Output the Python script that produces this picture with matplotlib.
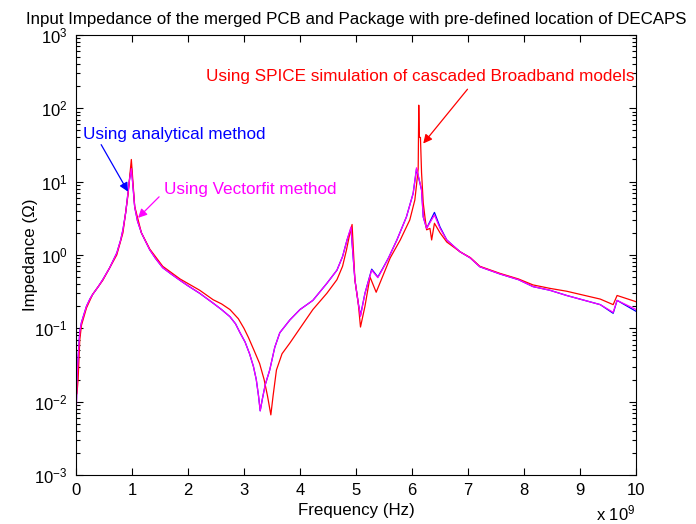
import matplotlib
matplotlib.use("Agg")
import matplotlib.pyplot as plt
from matplotlib.ticker import LogLocator, NullFormatter, MultipleLocator

plt.rcParams['font.family'] = ['Liberation Sans', 'DejaVu Sans']
plt.rcParams['mathtext.default'] = 'regular'

# frequency in units of 1e9 Hz, impedance in ohm
f_analytical = [0.0, 0.01, 0.02, 0.04, 0.07, 0.1, 0.15, 0.19, 0.25, 0.3, 0.4, 0.48, 0.6, 0.73,
                0.8, 0.84, 0.89, 0.93, 0.96, 0.99, 1.02, 1.05, 1.1, 1.17, 1.25, 1.32, 1.42,
                1.55, 1.7, 1.86, 2.0, 2.21, 2.45, 2.6, 2.75, 2.85, 2.93, 3.02, 3.1, 3.17,
                3.22, 3.26, 3.29, 3.33, 3.38, 3.46, 3.55, 3.64, 3.82, 4.0, 4.23, 4.48, 4.66,
                4.76, 4.84, 4.91, 4.98, 5.04, 5.08, 5.16, 5.28, 5.39, 5.48, 5.58, 5.73, 5.9,
                6.02, 6.08, 6.17, 6.2, 6.26, 6.4, 6.5, 6.62, 6.75, 6.86, 7.04, 7.21, 7.57,
                7.9, 8.16, 8.46, 8.76, 9.36, 9.59, 9.66, 10.0]
z_analytical = [0.007, 0.01, 0.02, 0.04, 0.09, 0.12, 0.16, 0.2, 0.25, 0.29, 0.37, 0.46, 0.66, 1.06,
                1.6, 2.2, 3.8, 7.0, 11, 16, 8.5, 4.5, 2.9, 2.0, 1.5, 1.17, 0.9,
                0.67, 0.55, 0.45, 0.38, 0.30, 0.22, 0.18, 0.144, 0.115, 0.087, 0.065, 0.045, 0.03,
                0.02, 0.012, 0.0075, 0.011, 0.017, 0.027, 0.055, 0.087, 0.13, 0.18, 0.24, 0.41, 0.62,
                0.95, 1.6, 2.3, 0.46, 0.22, 0.15, 0.3, 0.64, 0.5, 0.66, 0.91, 1.6, 3.3,
                6.9, 14.8, 7.7, 3.3, 2.3, 3.8, 2.4, 1.6, 1.3, 1.1, 0.91, 0.69, 0.55,
                0.46, 0.37, 0.33, 0.28, 0.21, 0.16, 0.24, 0.17]

f_vectorfit = [0.0, 0.01, 0.02, 0.04, 0.07, 0.1, 0.15, 0.19, 0.25, 0.3, 0.4, 0.48, 0.6, 0.73,
               0.8, 0.84, 0.89, 0.93, 0.96, 0.99, 1.02, 1.05, 1.1, 1.17, 1.25, 1.32, 1.42,
               1.55, 1.7, 1.86, 2.0, 2.21, 2.45, 2.6, 2.75, 2.85, 2.93, 3.02, 3.1, 3.17,
               3.22, 3.26, 3.29, 3.33, 3.38, 3.46, 3.55, 3.64, 3.82, 4.0, 4.23, 4.48, 4.66,
               4.76, 4.84, 4.91, 4.98, 5.04, 5.08, 5.16, 5.28, 5.39, 5.48, 5.58, 5.73, 5.9,
               6.02, 6.08, 6.17, 6.2, 6.26, 6.4, 6.5, 6.62, 6.75, 6.86, 7.04, 7.21, 7.57,
               7.9, 8.16, 8.46, 8.76, 9.36, 9.59, 9.66, 10.0]
z_vectorfit = [0.0033, 0.008, 0.02, 0.04, 0.09, 0.12, 0.16, 0.2, 0.25, 0.29, 0.37, 0.46, 0.66, 1.06,
               1.6, 2.2, 3.8, 7.0, 11, 15, 8.5, 4.5, 2.9, 2.0, 1.5, 1.17, 0.9,
               0.67, 0.55, 0.45, 0.38, 0.30, 0.22, 0.18, 0.144, 0.115, 0.087, 0.065, 0.045, 0.03,
               0.02, 0.012, 0.0075, 0.011, 0.017, 0.027, 0.055, 0.087, 0.13, 0.18, 0.24, 0.41, 0.62,
               0.95, 1.6, 2.4, 0.46, 0.22, 0.145, 0.3, 0.62, 0.49, 0.65, 0.91, 1.6, 3.3,
               6.9, 15.4, 7.7, 3.3, 2.3, 3.5, 2.3, 1.6, 1.3, 1.1, 0.91, 0.69, 0.55,
               0.46, 0.37, 0.33, 0.28, 0.21, 0.165, 0.24, 0.18]

f_spice = [0.0, 0.02, 0.04, 0.07, 0.1, 0.19, 0.3, 0.48, 0.73, 0.84, 0.93, 0.99, 1.05, 1.17,
           1.32, 1.55, 1.86, 2.21, 2.45, 2.6, 2.75, 2.9, 3.0, 3.08, 3.18, 3.28, 3.36, 3.42,
           3.48, 3.52, 3.58, 3.68, 3.82, 4.0, 4.23, 4.48, 4.66, 4.76, 4.83, 4.88, 4.93, 4.98,
           5.04, 5.08, 5.16, 5.25, 5.36, 5.61, 5.79, 5.96, 6.05, 6.08, 6.11, 6.12, 6.13, 6.15,
           6.17, 6.2, 6.23, 6.26, 6.32, 6.35, 6.4, 6.5, 6.62, 6.86, 7.04, 7.21, 7.57, 7.9,
           8.16, 8.46, 8.76, 9.36, 9.59, 9.66, 10.0]
z_spice = [0.012, 0.013, 0.02, 0.07, 0.11, 0.19, 0.29, 0.45, 1.0, 2.0, 6.5, 20, 4.6, 2.0,
           1.2, 0.7, 0.47, 0.33, 0.245, 0.215, 0.18, 0.135, 0.1, 0.075, 0.05, 0.033, 0.02, 0.012,
           0.0066, 0.012, 0.027, 0.045, 0.063, 0.1, 0.18, 0.3, 0.46, 0.7, 1.17, 1.8, 2.6, 0.46,
           0.22, 0.104, 0.2, 0.50, 0.31, 0.91, 1.6, 3.0, 5.6, 9.0, 15, 110, 40, 40,
           13.2, 5.1, 3.3, 2.2, 2.3, 1.6, 2.7, 2.0, 1.5, 1.1, 0.92, 0.70, 0.56, 0.47,
           0.39, 0.35, 0.32, 0.25, 0.21, 0.28, 0.23]

fig = plt.figure(figsize=(6.96, 5.24), dpi=100)
ax = fig.add_axes([0.109, 0.0935, 0.805, 0.84])

ax.semilogy(f_analytical, z_analytical, color=(0, 0, 1), lw=0.9)
ax.semilogy(f_spice, z_spice, color=(1, 0, 0), lw=0.9)
ax.semilogy(f_vectorfit, z_vectorfit, color=(1, 0, 1), lw=0.9)

ax.set_xlim(0, 10)
ax.set_ylim(1e-3, 1e3)
ax.xaxis.set_major_locator(MultipleLocator(1))
ax.yaxis.set_major_locator(LogLocator(base=10, numticks=10))
ax.yaxis.set_minor_locator(LogLocator(base=10, subs=range(2, 10), numticks=100))
ax.yaxis.set_minor_formatter(NullFormatter())
ax.tick_params(which='both', direction='in', top=True, right=True, labelsize=12)
ax.tick_params(which='major', length=5, width=0.8)
ax.tick_params(which='minor', length=3, width=0.8)
ax.tick_params(axis='x', pad=6)
ax.tick_params(axis='y', pad=6)
for s in ax.spines.values():
    s.set_linewidth(0.8)

ax.set_title("Input Impedance of the merged PCB and Package with pre-defined location of DECAPS",
             fontsize=12.2, pad=8)
ax.set_xlabel("Frequency (Hz)", fontsize=12.2, labelpad=3)
ax.set_ylabel("Impedance (\u03a9)", fontsize=12.2, labelpad=-3)
ax.text(0.929, -0.088, r"x $10^9$", transform=ax.transAxes, fontsize=12,
        ha='left', va='center')

ax.annotate("Using analytical method", xy=(0.93, 7.3), xytext=(0.13, 44),
            color=(0, 0, 1), fontsize=12.3, va='center', ha='left',
            arrowprops=dict(arrowstyle='-|>', color=(0, 0, 1), lw=0.9,
                            shrinkA=0, shrinkB=0, mutation_scale=13,
                            relpos=(0.09, 0.0)))
ax.annotate("Using Vectorfit method", xy=(1.11, 3.2), xytext=(1.57, 7.9),
            color=(1, 0, 1), fontsize=12.3, va='center', ha='left',
            arrowprops=dict(arrowstyle='-|>', color=(1, 0, 1), lw=0.9,
                            shrinkA=2, shrinkB=0, mutation_scale=13,
                            relpos=(0.0, 0.3)))
ax.annotate("Using SPICE simulation of cascaded Broadband models", xy=(6.2, 33), xytext=(2.32, 268),
            color=(1, 0, 0), fontsize=12.3, va='center', ha='left',
            arrowprops=dict(arrowstyle='-|>', color=(1, 0, 0), lw=0.9,
                            shrinkA=2, shrinkB=0, mutation_scale=13,
                            relpos=(0.62, 0.0)))

fig.savefig("out.png", dpi=100)
